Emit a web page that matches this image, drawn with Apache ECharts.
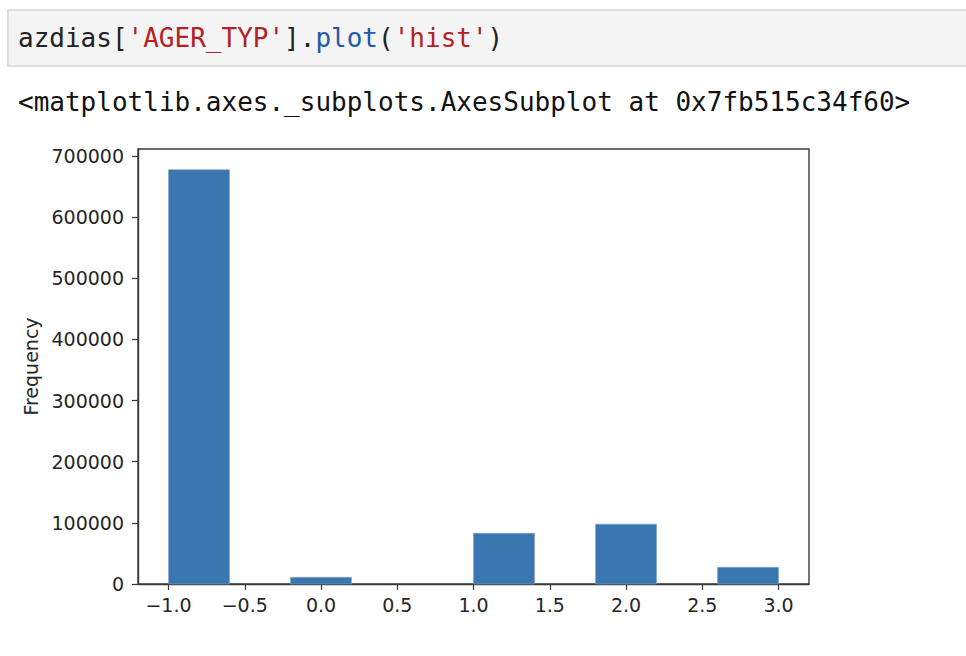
<!DOCTYPE html>
<html><head><meta charset="utf-8">
<script src="https://cdn.jsdelivr.net/npm/echarts@6/dist/echarts.min.js"></script>
<style>html,body{margin:0;padding:0;background:#fff}#chart{width:966px;height:656px}</style>
</head><body><div id="chart"></div>
<script>
// ---- data ----
const codeParts = [["d","azdias["],["s","'AGER_TYP'"],["d","]."],["p","plot"],["d","("],["s","'hist'"],["d",")"]];
const outputLine = "<matplotlib.axes._subplots.AxesSubplot at 0x7fb515c34f60>";
const yAxisTitle = "Frequency";
const binEdges = [-1.0,-0.6,-0.2,0.2,0.6,1.0,1.4,1.8,2.2,2.6,3.0];
const counts = [677500,0,11000,0,0,82900,0,97900,0,27300];
const xTicks = [-1.0,-0.5,0.0,0.5,1.0,1.5,2.0,2.5,3.0];
const yTicks = [0,100000,200000,300000,400000,500000,600000,700000];

// ---- chart ----
const chart = echarts.init(document.getElementById('chart'), null, {renderer:'svg'});
const data = counts.map((c,i)=>[binEdges[i], binEdges[i+1], c]);
const range = binEdges[binEdges.length-1]-binEdges[0];
const xMin = binEdges[0]-range*0.05, xMax = binEdges[binEdges.length-1]+range*0.05;
const yMax = Math.max(...counts)*1.05;
const mono = '"DejaVu Sans Mono", monospace';
const sans = '"DejaVu Sans", sans-serif';
const fmtX = v => (v<0?'\u2212':'') + Math.abs(v).toFixed(1);
const fmtY = v => String(Math.round(v));
const axisColor = '#3a3a3a';
chart.setOption({
  animation:false,
  backgroundColor:'#fff',
  grid:{left:138, top:149, right:157, bottom:72, show:true, borderColor:axisColor, borderWidth:1.4, backgroundColor:'transparent', containLabel:false},
  xAxis:{type:'value', min:xMin, max:xMax,
    axisLine:{show:true, onZero:false, lineStyle:{color:axisColor, width:1.4}},
    axisTick:{show:true, length:6, customValues:xTicks, lineStyle:{color:axisColor, width:1.2}},
    axisLabel:{customValues:xTicks, formatter:fmtX, fontFamily:sans, fontSize:19, color:'#262626', margin:11},
    splitLine:{show:false}},
  yAxis:{type:'value', min:0, max:yMax,
    name:yAxisTitle, nameLocation:'middle', nameGap:96, nameRotate:90,
    nameTextStyle:{fontFamily:sans, fontSize:19, color:'#262626'},
    axisLine:{show:true, onZero:false, lineStyle:{color:axisColor, width:1.4}},
    axisTick:{show:true, length:6, customValues:yTicks, lineStyle:{color:axisColor, width:1.2}},
    axisLabel:{customValues:yTicks, formatter:fmtY, fontFamily:sans, fontSize:19, color:'#262626', margin:14},
    splitLine:{show:false}},
  series:[{type:'custom', data:data, encode:{x:[0,1], y:2},
    renderItem:function(params, api){
      const p0 = api.coord([api.value(0), api.value(2)]);
      const p1 = api.coord([api.value(1), 0]);
      const h = p1[1]-p0[1];
      return {type:'rect', shape:{x:p0[0], y:p0[1], width:p1[0]-p0[0], height:h},
        style:{fill:'#3a76af', stroke: h>0.5 ? '#7fa6cc' : null, lineWidth:0.6}};
    }}],
  graphic:[
    {type:'rect', left:7, top:9, shape:{width:975, height:56}, style:{fill:'#f4f4f4', stroke:'#dedede', lineWidth:2}, z:0},
    {type:'text', left:18, top:25, style:{
      text: codeParts.map(p=>'{'+p[0]+'|'+p[1]+'}').join(''),
      rich:{
        d:{fontFamily:mono, fontSize:26, fill:'#222'},
        s:{fontFamily:mono, fontSize:26, fill:'#b22222'},
        p:{fontFamily:mono, fontSize:26, fill:'#2458a8'}
      }}, z:1},
    {type:'text', left:18, top:89, style:{text:outputLine, fontFamily:mono, fontSize:26, fill:'#111'}, z:1}
  ]
});
</script></body></html>
